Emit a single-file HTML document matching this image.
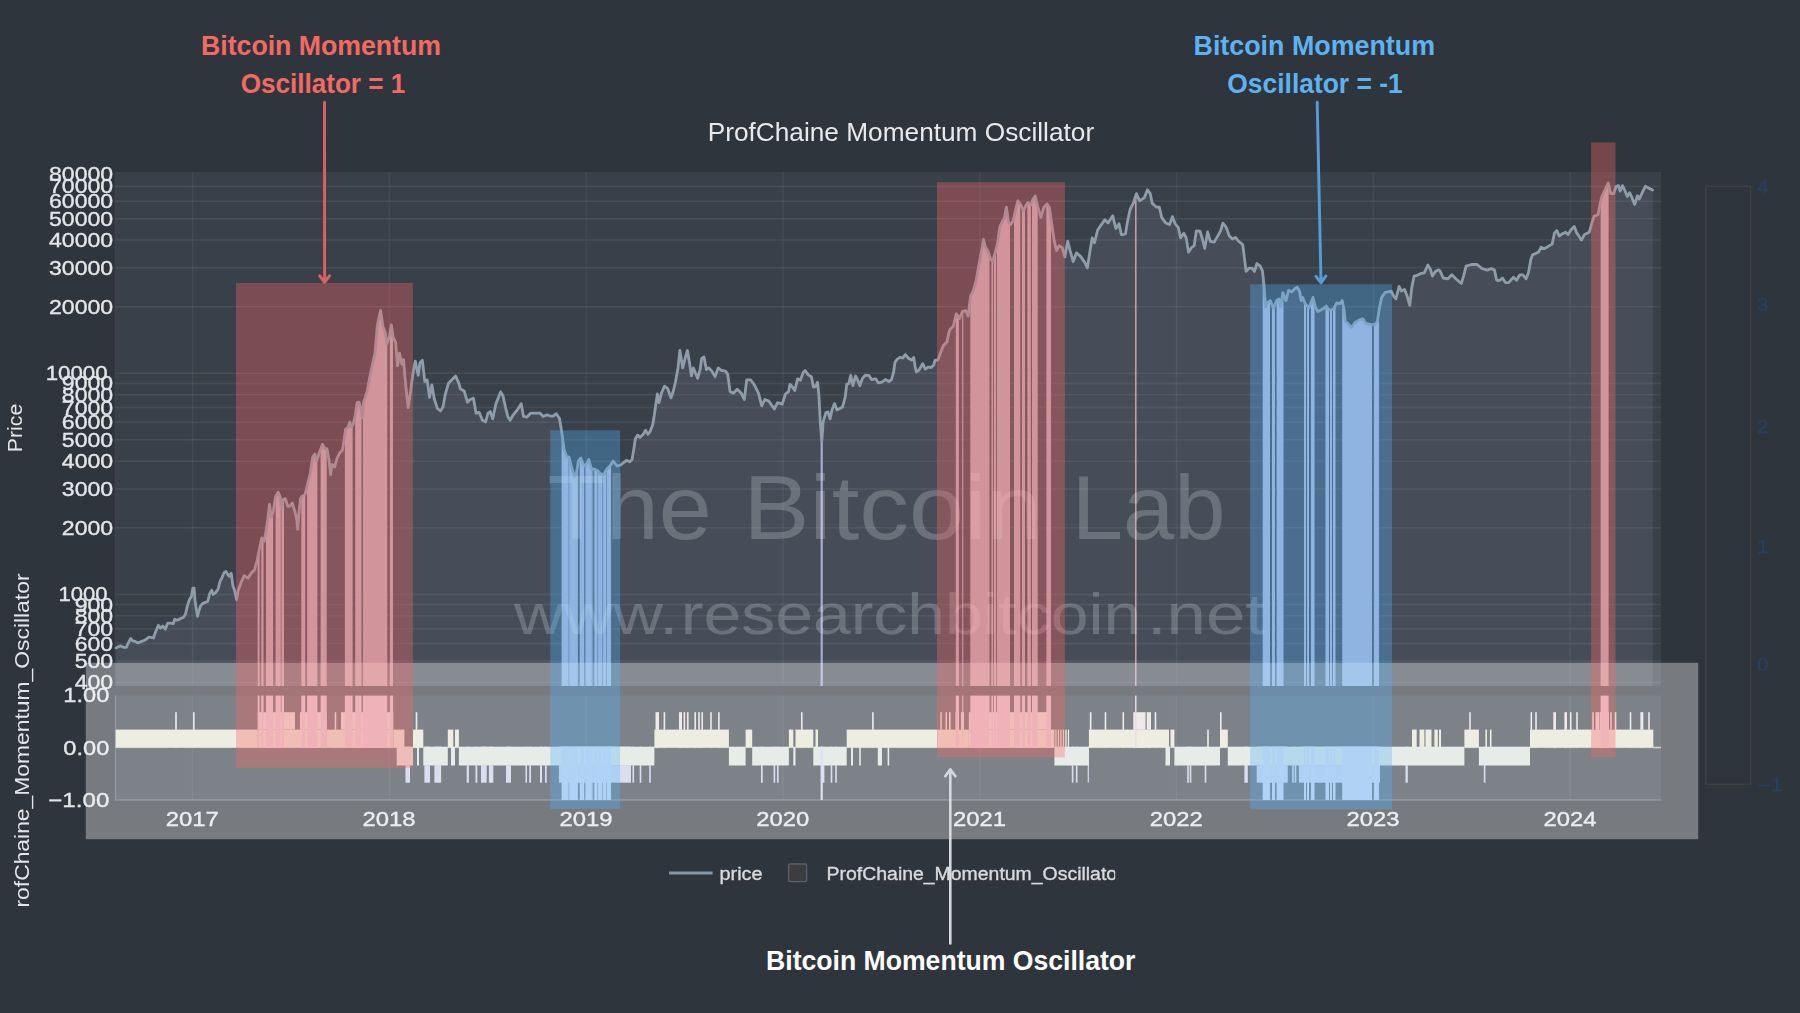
<!DOCTYPE html>
<html><head><meta charset="utf-8"><title>ProfChaine Momentum Oscillator</title>
<style>
html,body{margin:0;padding:0;background:#2e353e;}
body{width:1800px;height:1013px;overflow:hidden;font-family:"Liberation Sans",sans-serif;}
svg{display:block;}
</style></head><body>
<svg width="1800" height="1013" viewBox="0 0 1800 1013">
<defs><filter id="soft" x="0" y="0" width="1800" height="1013" filterUnits="userSpaceOnUse"><feGaussianBlur stdDeviation="0.55"/></filter></defs>
<rect width="1800" height="1013" fill="#2e353e"/>
<g filter="url(#soft)">
<rect width="1800" height="1013" fill="#2e353e"/>
<rect x="115.2" y="172" width="1545.8" height="514" fill="#394049"/>
<rect x="115.2" y="695.6" width="1545.8" height="104.4" fill="#394049"/>
<g stroke="rgba(255,255,255,0.07)" stroke-width="1.5" fill="none">
<path d="M192.6 172V686 M192.6 695.6V800" stroke="rgba(255,255,255,0.055)"/>
<path d="M389.4 172V686 M389.4 695.6V800" stroke="rgba(255,255,255,0.055)"/>
<path d="M586.2 172V686 M586.2 695.6V800" stroke="rgba(255,255,255,0.055)"/>
<path d="M783 172V686 M783 695.6V800" stroke="rgba(255,255,255,0.055)"/>
<path d="M979.8 172V686 M979.8 695.6V800" stroke="rgba(255,255,255,0.055)"/>
<path d="M1176.6 172V686 M1176.6 695.6V800" stroke="rgba(255,255,255,0.055)"/>
<path d="M1373.4 172V686 M1373.4 695.6V800" stroke="rgba(255,255,255,0.055)"/>
<path d="M1570.2 172V686 M1570.2 695.6V800" stroke="rgba(255,255,255,0.055)"/>
<path d="M115.2 682.4H1661"/>
<path d="M115.2 661H1661"/>
<path d="M115.2 643.5H1661"/>
<path d="M115.2 628.7H1661"/>
<path d="M115.2 615.8H1661"/>
<path d="M115.2 604.5H1661"/>
<path d="M115.2 594.4H1661"/>
<path d="M115.2 527.8H1661"/>
<path d="M115.2 488.9H1661"/>
<path d="M115.2 461.3H1661"/>
<path d="M115.2 439.8H1661"/>
<path d="M115.2 422.3H1661"/>
<path d="M115.2 407.5H1661"/>
<path d="M115.2 394.7H1661"/>
<path d="M115.2 383.4H1661"/>
<path d="M115.2 373.2H1661"/>
<path d="M115.2 306.7H1661"/>
<path d="M115.2 267.7H1661"/>
<path d="M115.2 240.1H1661"/>
<path d="M115.2 218.7H1661"/>
<path d="M115.2 201.2H1661"/>
<path d="M115.2 186.4H1661"/>
<path d="M115.2 747.8H1661"/>
<path d="M115.2 800H1661"/>
</g>
<path d="M115.2 172V686 M115.2 695.6V800" stroke="rgba(255,255,255,0.04)" stroke-width="1.5"/>
<path d="M115.5 695.6V800H1661" fill="none" stroke="rgba(255,255,255,0.16)" stroke-width="1.3"/>
<path d="M116.1 647.9 L118.9 646.4 L120.9 645.9 L123.8 647.4 L126.3 647.4 L128.3 642.9 L130.7 638.5 L132.7 640.9 L135.2 641.4 L137.6 642.9 L140.6 641.9 L144.1 640.5 L146.5 639 L149 637 L151.5 637.5 L153.4 638 L155.9 631.1 L158.4 625.2 L160.3 628.1 L162.8 626.1 L165.3 629.1 L167.7 623.2 L170.2 623.2 L173.2 623.7 L174.7 619.2 L177.1 620.2 L180.1 618.7 L183.5 617.3 L185.5 614.3 L187.5 605.4 L189.5 599.5 L191.4 596.5 L192.9 588.1 L194.1 588.1 L194.9 599.5 L195.9 606.4 L197.4 616.3 L198.8 611.3 L200.3 606.4 L202.8 603.4 L205.3 602.4 L207.7 601.5 L209.7 593.6 L211.7 590.1 L213.2 594.5 L215.6 592.6 L218.1 589.1 L220.1 581.2 L222 577.8 L224 572.8 L226 571.4 L228 574.8 L229.4 576.3 L231.2 573.3 L232.9 585.7 L234.6 590.5 L236.6 599.8 L238.2 590.5 L241 582.7 L244.2 575.6 L248 578.2 L251.3 573.1 L254.5 569.9 L257 560.9 L259.6 548 L261.8 537.8 L264.1 541.6 L266 531.3 L267.9 518.5 L269.5 504.4 L271.2 517.2 L273.1 512.1 L275.6 496.7 L278.2 492.2 L280.1 496.7 L281.4 509.5 L283.3 499.3 L285.3 498.6 L287.8 506.3 L290.4 505.7 L292.3 503.1 L294.9 511.5 L296.8 519.8 L297.7 529.4 L299 512.1 L300.5 498.5 L301.9 496.4 L305.1 494.5 L307.7 483.6 L310.3 473.3 L312.8 456.6 L314.8 454.1 L316.7 460.5 L319.3 452.8 L322.5 444.4 L325 448.9 L327 448.9 L328.9 459.2 L330.6 474.6 L332.1 464.3 L334.7 466.9 L337.2 457.9 L339.8 452.8 L342.4 450.2 L344.3 438.6 L345.6 429 L348.1 427.1 L349.8 422 L351.3 427.1 L353.3 423.9 L355.2 415.5 L357.1 402.7 L359 402.1 L361 409.1 L362.3 418.1 L363.5 402.7 L365.5 396.3 L367.1 391.1 L371.1 370.6 L375 353.2 L377.4 324.8 L380.6 310.5 L382.9 326.3 L385.3 332.7 L386.9 343.7 L389.2 337.4 L391.3 324.8 L393.2 337.4 L395.6 342.1 L397.6 365.8 L399.5 353.2 L401.9 364.3 L403.5 359.5 L405.8 386.4 L408.2 407.7 L410.6 391.1 L412.9 373.7 L415.3 361.1 L418.2 375.3 L420 362.7 L422.4 360.3 L424.8 381.6 L427.2 380 L429.5 397.4 L431.9 384.8 L434.3 399 L437.4 408.5 L440.6 410.9 L443 406.9 L445.3 394.3 L448.5 383.2 L452.4 379.3 L455.6 376.1 L458.8 383.2 L460.3 388.7 L464.3 391.1 L467.4 402.2 L469.8 399.8 L473.4 398.2 L476.1 413.2 L479.3 412.4 L482.4 420.3 L485.6 421.9 L488 413.2 L490.3 411.6 L492.7 418.8 L495.9 403.7 L500.6 391.9 L503 395.8 L505.4 406.9 L507.7 416.4 L510.1 420.3 L513.3 414.8 L517.2 410 L521.2 403.7 L523.5 416.4 L526.7 417.2 L530.6 413.2 L535.4 413.2 L540.1 413.2 L543.3 416.4 L547.2 414.8 L550 416.1 L553.2 416.1 L556.3 413.7 L559.5 418.5 L561.8 432.7 L564.2 450.1 L566.6 456.4 L569 457.2 L571.3 465.9 L574.5 476.9 L576.1 475.3 L578.4 461.1 L580.8 458 L583.2 464.3 L585.5 465.9 L588.7 459.5 L591.4 469 L594.2 469 L597.4 470.6 L600.6 473.8 L603.7 474.5 L606.9 469 L610 465.9 L613.2 461.1 L617.1 465.9 L620.3 465.1 L623.5 462.7 L626.6 460.3 L629.8 461.9 L632.1 459.5 L633.7 450.1 L635.3 439 L637.7 435.1 L640 437.4 L643.2 434.3 L645.6 430.3 L647.9 434.3 L650.3 431.1 L652.7 424.8 L654.3 415.3 L655.8 404.2 L657.4 394 L659 402.7 L661.4 393.2 L664.5 386.1 L667.7 388.5 L670.9 397.9 L673.2 391.6 L675.6 381.3 L678 367.9 L679.9 350.5 L682.7 367.9 L685.1 358.4 L687.4 350.5 L689.8 364.8 L691.4 375.8 L693.4 367.9 L695.3 372.7 L697.7 378.2 L700.1 369.5 L701.7 358.4 L704 356.9 L706.4 369.5 L708.8 367.9 L711.9 371.1 L715.1 376.6 L718.2 367.9 L721.4 370.3 L725.4 371.1 L727.7 374.2 L730.1 391.6 L733.3 393.2 L737.2 389.2 L741.2 393.2 L744.3 399.5 L746.7 379.8 L750.6 379.8 L754.6 385.3 L758.5 393.2 L761.7 405.8 L764.8 399.5 L768.8 401.1 L774.3 409 L777.5 402.7 L782.2 404.2 L785.4 394 L788.6 391.6 L790 384.3 L792.1 386.4 L794.8 390.5 L797.6 378.8 L800.4 380.2 L803.1 372.6 L805.2 370.5 L808 374.6 L811.4 376.7 L813.5 387.1 L815.6 386.4 L817.6 382.2 L819 396.7 L820.4 424.4 L821.8 441 L823.2 421.6 L825.9 412.6 L828 411.9 L830.1 418.8 L832.2 409.2 L834.5 403.6 L837 409.9 L839.8 408.5 L842.5 407.1 L845.3 396.7 L846.7 384.3 L848.7 383.6 L850.8 375.3 L852.9 385.7 L855.6 376 L857.7 380.2 L859.8 385.7 L862.6 378.1 L865.3 375.3 L868.8 375.3 L871.5 379.5 L875.7 378.8 L878.4 382.9 L881.9 382.2 L885.4 379.5 L888.8 381.5 L891.6 379.5 L893.6 371.9 L895 362.2 L897.1 359.4 L899.9 357.4 L902.6 358 L905.4 354.6 L908.2 358 L911.6 360.1 L913.7 357.4 L915.1 366.3 L916.4 371.9 L919.2 369.8 L922.7 363.6 L925.4 369.1 L928.2 367 L931 367.7 L933.7 365 L935.1 360.1 L937.9 360.1 L940.6 352.5 L943.4 345.6 L946.9 342.1 L948.9 332.5 L950 329.6 L953.2 326.4 L956.3 313.8 L959.5 318.5 L962.6 311.4 L965.8 310.6 L968.2 316.1 L970.5 296.4 L972.9 291.6 L976.1 280.6 L979.2 263.2 L981.6 250.6 L983.5 239.5 L985.5 247.4 L987.9 250.6 L990.8 260 L992.7 260.8 L995 253.7 L997.4 244.2 L999.8 226.9 L1002.1 222.1 L1004.5 217.4 L1006.4 207.1 L1008.5 222.1 L1010.8 224.5 L1013.2 220.6 L1015.6 209.5 L1017.9 200.8 L1020.3 204 L1023.5 211.1 L1025.8 205.5 L1028.2 202.4 L1030.6 205.5 L1032.9 199.2 L1035.3 196.1 L1037.7 206.3 L1040.8 217.4 L1044 207.1 L1047.2 204 L1049.5 207.9 L1051.9 225.3 L1054.3 241.1 L1056.6 250.6 L1059 245.8 L1062.2 247.4 L1064.8 256.9 L1067.7 241.1 L1070.1 250.6 L1073.2 261.6 L1076.4 252.9 L1080.3 256.1 L1084.3 261.6 L1087.4 267.9 L1089.8 252.1 L1092.2 237.9 L1094.5 242.7 L1097.7 230 L1100.9 225.3 L1104.8 219.8 L1108 222.9 L1112.7 215.8 L1115.9 228.5 L1119 223.7 L1121.4 234.8 L1125.4 234 L1127.7 220.6 L1130.1 209.5 L1133.3 203.2 L1136.4 193.7 L1139.6 200.8 L1144.3 197.6 L1147.5 189.7 L1150.3 193.7 L1152.2 203.2 L1156.2 207.1 L1159.3 207.1 L1161.7 217.4 L1165.6 222.9 L1169.6 224.5 L1172.4 216.6 L1175.1 223.7 L1178.3 227.7 L1180.6 237.9 L1183.8 233.2 L1186.2 237.9 L1188.5 252.1 L1191.7 247.4 L1194.1 245.8 L1196.4 230.8 L1200 231.1 L1202.4 239 L1204.7 248.5 L1207.6 231.9 L1210.3 241.3 L1214.2 242.1 L1217.4 236.6 L1220.5 231.1 L1222.9 223.2 L1226.1 227.1 L1229.2 235.8 L1232.4 239 L1235.5 237.4 L1238.7 241.3 L1242.7 244.5 L1244.2 256.4 L1246.1 271.4 L1249 268.2 L1252.1 268.2 L1254.5 271.4 L1256.9 263.5 L1260 265.8 L1262.4 270.6 L1264 284.8 L1265.6 306.9 L1267.9 302.2 L1270.3 300.6 L1273.5 308.5 L1276.6 300.6 L1279 299 L1280.6 306.9 L1282.9 292.7 L1286.1 300.6 L1288.5 290.3 L1291.6 291.9 L1294.8 288.7 L1297.2 287.2 L1299.5 291.1 L1301.1 300.6 L1302.7 297.4 L1305.1 303.7 L1309 307.7 L1313 297.4 L1315.3 306.9 L1317.7 311.6 L1322.4 309.3 L1326.4 306.1 L1328.8 310.1 L1333.5 309.3 L1336.7 302.9 L1339.8 303.7 L1342.2 300.6 L1344.1 310.1 L1345.3 321.1 L1348.5 324.3 L1351.7 327.4 L1354.8 322.7 L1358.8 320.3 L1362.7 318.8 L1365.9 323.5 L1370.6 324.3 L1373.8 325.1 L1377.3 321.9 L1379.3 308.5 L1381.7 297.4 L1384.8 292.7 L1388 291.9 L1391.2 291.1 L1393.5 295.8 L1395.9 299 L1399.1 286.4 L1401.4 291.1 L1404.6 289.5 L1407 295.8 L1409.8 305.3 L1411.7 287.9 L1414.1 276.1 L1417.2 275.3 L1420.4 273.7 L1424.3 272.9 L1427.8 265 L1430.3 269 L1432.5 276.1 L1435.4 271.4 L1438.5 269.8 L1440 270.9 L1443.2 278 L1447.9 278.8 L1451.8 274.8 L1455.8 278.8 L1461.3 283.5 L1463.7 275.6 L1466.1 266.1 L1471.6 264.5 L1477.1 264.5 L1481.9 268.5 L1487.4 270.1 L1491.3 268.5 L1494.5 270.1 L1496.6 280.3 L1500 280.3 L1502.4 278 L1505.6 282.7 L1508.7 282.7 L1513.5 277.2 L1516.6 280.3 L1519.8 274.8 L1522.9 274.8 L1526.1 278.8 L1528.5 272.4 L1530.8 259.8 L1532.4 255.1 L1535.6 253.5 L1538.7 251.9 L1541.1 247.2 L1544.3 248.7 L1548.2 246.4 L1552.2 244 L1554.5 232.9 L1556.9 230.6 L1559.3 236.1 L1562.4 233.7 L1565.6 232.2 L1568 234.5 L1571.1 229.8 L1574.3 226.6 L1576.7 232.9 L1579 236.1 L1581.4 240.1 L1584.5 234.5 L1589.3 232.2 L1591.7 223.5 L1594 216.4 L1598 214.8 L1600.3 202.9 L1601.9 196.6 L1605.1 189.5 L1608.2 183.2 L1610.6 193.5 L1613.8 193.5 L1616.1 186.3 L1618.5 185.6 L1620.1 191.1 L1622.5 185.6 L1624.8 190.3 L1627.2 196.6 L1629.6 192.7 L1631.9 197.4 L1634.6 204.5 L1637.5 195.8 L1639.4 199 L1642.2 192.7 L1645.4 186.3 L1648.5 187.9 L1652.5 190 L1652.5 686 L116.1 686 Z" fill="rgba(150,165,185,0.145)"/>
<g fill="#beacb9">
<path d="M257.7 686 L257.7 557.4 L259.6 548 L259.6 686 Z"/>
<path d="M261.3 686 L261.3 540.1 L261.8 537.8 L263.5 540.6 L263.5 686 Z"/>
<path d="M266 686 L266 531.3 L267.9 518.5 L269.5 504.4 L271.2 517.2 L273.1 512.1 L273.1 686 Z"/>
<path d="M275.6 686 L275.6 496.7 L278.2 492.2 L280.1 496.7 L280.8 503.6 L280.8 686 Z"/>
<path d="M281.4 686 L281.4 509.5 L283.3 499.3 L284 499.1 L284 686 Z"/>
<path d="M301.3 686 L301.3 497.3 L301.9 496.4 L305.1 494.5 L305.2 494.1 L305.2 686 Z"/>
<path d="M307.1 686 L307.1 486.1 L307.7 483.6 L310.3 473.3 L312.8 456.6 L314.8 454.1 L316.7 460.5 L317.4 458.4 L317.4 686 Z"/>
<path d="M320.6 686 L320.6 449.4 L322.5 444.4 L325 448.9 L326.7 448.9 L326.7 686 Z"/>
<path d="M344.9 686 L344.9 434.2 L345.6 429 L348.1 427.1 L349.8 422 L351.3 427.1 L352.6 425 L352.6 686 Z"/>
<path d="M355.2 686 L355.2 415.5 L357.1 402.7 L359 402.1 L361 409.1 L361.6 413.3 L361.6 686 Z"/>
<path d="M362.9 686 L362.9 410.4 L363.5 402.7 L365.5 396.3 L367.1 391.1 L371.1 370.6 L375 353.2 L377.4 324.8 L380.6 310.5 L382.9 326.3 L385.3 332.7 L386.9 343.7 L387.3 342.6 L387.3 686 Z"/>
<path d="M389.9 686 L389.9 333.2 L391.3 324.8 L393 336.1 L393 686 Z"/>
<path d="M955.8 686 L955.8 315.8 L956.3 313.8 L958.9 317.6 L958.9 686 Z"/>
<path d="M962.2 686 L962.2 312.3 L962.6 311.4 L963.3 311.2 L963.3 686 Z"/>
<path d="M970.3 686 L970.3 298.1 L970.5 296.4 L972.9 291.6 L976.1 280.6 L979.2 263.2 L981.6 250.6 L983.5 239.5 L985.5 247.4 L987.9 250.6 L989.5 255.8 L989.5 686 Z"/>
<path d="M991.4 686 L991.4 260.3 L992.7 260.8 L993 259.9 L993 686 Z"/>
<path d="M993.8 686 L993.8 257.4 L995 253.7 L996 249.7 L996 686 Z"/>
<path d="M996.8 686 L996.8 246.6 L997.4 244.2 L999.8 226.9 L1002.1 222.1 L1004.5 217.4 L1006.4 207.1 L1008.5 222.1 L1010 223.7 L1010 686 Z"/>
<path d="M1014 686 L1014 216.9 L1015.6 209.5 L1017.9 200.8 L1020.3 204 L1020.3 686 Z"/>
<path d="M1021.9 686 L1021.9 207.6 L1023.5 211.1 L1025 207.4 L1025 686 Z"/>
<path d="M1027.4 686 L1027.4 203.4 L1028.2 202.4 L1030.6 205.5 L1030.9 204.7 L1030.9 686 Z"/>
<path d="M1032 686 L1032 201.7 L1032.9 199.2 L1035.3 196.1 L1037.7 206.3 L1037.7 686 Z"/>
<path d="M1046.4 686 L1046.4 204.8 L1047.2 204 L1049.5 207.9 L1051 218.8 L1051 686 Z"/>
<path d="M1135.1 686 L1135.1 197.7 L1136.4 193.7 L1136.5 193.9 L1136.5 686 Z" fill="#d6a2ae"/>
<path d="M1600.6 686 L1600.6 201.7 L1601.9 196.6 L1605.1 189.5 L1608.2 183.2 L1608.6 184.9 L1608.6 686 Z"/>
</g>
<g fill="#acb5d4">
<path d="M561.6 686 L561.6 431.5 L561.8 432.7 L564.2 450.1 L566.6 456.4 L568.7 457.1 L568.7 686 Z"/>
<path d="M569.2 686 L569.2 458 L571.3 465.9 L574.5 476.9 L576.1 475.3 L577.9 464.2 L577.9 686 Z"/>
<path d="M579.7 686 L579.7 459.4 L580.8 458 L583.2 464.3 L584.3 465.1 L584.3 686 Z"/>
<path d="M585.4 686 L585.4 465.8 L585.5 465.9 L588.7 459.5 L591.4 469 L591.9 469 L591.9 686 Z"/>
<path d="M592.4 686 L592.4 469 L593.2 469 L593.2 686 Z"/>
<path d="M594.3 686 L594.3 469 L597.4 470.6 L597.6 470.8 L597.6 686 Z"/>
<path d="M598.1 686 L598.1 471.3 L600.6 473.8 L602 474.1 L602 686 Z"/>
<path d="M602.5 686 L602.5 474.2 L603.7 474.5 L606.5 469.7 L606.5 686 Z"/>
<path d="M607 686 L607 468.9 L610 465.9 L611 464.4 L611 686 Z"/>
<path d="M820.6 686 L820.6 426.8 L821.8 441 L822.8 427.1 L822.8 686 Z" fill="#a9a9d4"/>
<path d="M1262.7 686 L1262.7 273.3 L1264 284.8 L1265.6 306.9 L1267.9 302.2 L1270 300.8 L1270 686 Z"/>
<path d="M1272 686 L1272 304.8 L1273.5 308.5 L1275 304.7 L1275 686 Z"/>
<path d="M1276.6 686 L1276.6 300.6 L1279 299 L1280.6 306.9 L1282.9 292.7 L1283.5 294.2 L1283.5 686 Z"/>
<path d="M1304 686 L1304 300.8 L1305.1 303.7 L1306 304.6 L1306 686 Z"/>
<path d="M1307 686 L1307 305.6 L1309 307.7 L1309 686 Z"/>
<path d="M1311 686 L1311 302.5 L1313 297.4 L1314.5 303.6 L1314.5 686 Z"/>
<path d="M1325.5 686 L1325.5 306.8 L1326.4 306.1 L1328.8 310.1 L1329 310.1 L1329 686 Z"/>
<path d="M1330 686 L1330 309.9 L1332 309.6 L1332 686 Z"/>
<path d="M1333 686 L1333 309.4 L1333.5 309.3 L1335.5 305.3 L1335.5 686 Z"/>
<path d="M1342.2 686 L1342.2 300.6 L1344.1 310.1 L1345.3 321.1 L1348.5 324.3 L1351.7 327.4 L1354.8 322.7 L1358.8 320.3 L1362.7 318.8 L1365.9 323.5 L1370.6 324.3 L1372 324.7 L1372 686 Z"/>
<path d="M1374 686 L1374 324.9 L1377.3 321.9 L1379 310.5 L1379 686 Z"/>
</g>
<path d="M116.1 647.9 L118.9 646.4 L120.9 645.9 L123.8 647.4 L126.3 647.4 L128.3 642.9 L130.7 638.5 L132.7 640.9 L135.2 641.4 L137.6 642.9 L140.6 641.9 L144.1 640.5 L146.5 639 L149 637 L151.5 637.5 L153.4 638 L155.9 631.1 L158.4 625.2 L160.3 628.1 L162.8 626.1 L165.3 629.1 L167.7 623.2 L170.2 623.2 L173.2 623.7 L174.7 619.2 L177.1 620.2 L180.1 618.7 L183.5 617.3 L185.5 614.3 L187.5 605.4 L189.5 599.5 L191.4 596.5 L192.9 588.1 L194.1 588.1 L194.9 599.5 L195.9 606.4 L197.4 616.3 L198.8 611.3 L200.3 606.4 L202.8 603.4 L205.3 602.4 L207.7 601.5 L209.7 593.6 L211.7 590.1 L213.2 594.5 L215.6 592.6 L218.1 589.1 L220.1 581.2 L222 577.8 L224 572.8 L226 571.4 L228 574.8 L229.4 576.3 L231.2 573.3 L232.9 585.7 L234.6 590.5 L236.6 599.8 L238.2 590.5 L241 582.7 L244.2 575.6 L248 578.2 L251.3 573.1 L254.5 569.9 L257 560.9 L259.6 548 L261.8 537.8 L264.1 541.6 L266 531.3 L267.9 518.5 L269.5 504.4 L271.2 517.2 L273.1 512.1 L275.6 496.7 L278.2 492.2 L280.1 496.7 L281.4 509.5 L283.3 499.3 L285.3 498.6 L287.8 506.3 L290.4 505.7 L292.3 503.1 L294.9 511.5 L296.8 519.8 L297.7 529.4 L299 512.1 L300.5 498.5 L301.9 496.4 L305.1 494.5 L307.7 483.6 L310.3 473.3 L312.8 456.6 L314.8 454.1 L316.7 460.5 L319.3 452.8 L322.5 444.4 L325 448.9 L327 448.9 L328.9 459.2 L330.6 474.6 L332.1 464.3 L334.7 466.9 L337.2 457.9 L339.8 452.8 L342.4 450.2 L344.3 438.6 L345.6 429 L348.1 427.1 L349.8 422 L351.3 427.1 L353.3 423.9 L355.2 415.5 L357.1 402.7 L359 402.1 L361 409.1 L362.3 418.1 L363.5 402.7 L365.5 396.3 L367.1 391.1 L371.1 370.6 L375 353.2 L377.4 324.8 L380.6 310.5 L382.9 326.3 L385.3 332.7 L386.9 343.7 L389.2 337.4 L391.3 324.8 L393.2 337.4 L395.6 342.1 L397.6 365.8 L399.5 353.2 L401.9 364.3 L403.5 359.5 L405.8 386.4 L408.2 407.7 L410.6 391.1 L412.9 373.7 L415.3 361.1 L418.2 375.3 L420 362.7 L422.4 360.3 L424.8 381.6 L427.2 380 L429.5 397.4 L431.9 384.8 L434.3 399 L437.4 408.5 L440.6 410.9 L443 406.9 L445.3 394.3 L448.5 383.2 L452.4 379.3 L455.6 376.1 L458.8 383.2 L460.3 388.7 L464.3 391.1 L467.4 402.2 L469.8 399.8 L473.4 398.2 L476.1 413.2 L479.3 412.4 L482.4 420.3 L485.6 421.9 L488 413.2 L490.3 411.6 L492.7 418.8 L495.9 403.7 L500.6 391.9 L503 395.8 L505.4 406.9 L507.7 416.4 L510.1 420.3 L513.3 414.8 L517.2 410 L521.2 403.7 L523.5 416.4 L526.7 417.2 L530.6 413.2 L535.4 413.2 L540.1 413.2 L543.3 416.4 L547.2 414.8 L550 416.1 L553.2 416.1 L556.3 413.7 L559.5 418.5 L561.8 432.7 L564.2 450.1 L566.6 456.4 L569 457.2 L571.3 465.9 L574.5 476.9 L576.1 475.3 L578.4 461.1 L580.8 458 L583.2 464.3 L585.5 465.9 L588.7 459.5 L591.4 469 L594.2 469 L597.4 470.6 L600.6 473.8 L603.7 474.5 L606.9 469 L610 465.9 L613.2 461.1 L617.1 465.9 L620.3 465.1 L623.5 462.7 L626.6 460.3 L629.8 461.9 L632.1 459.5 L633.7 450.1 L635.3 439 L637.7 435.1 L640 437.4 L643.2 434.3 L645.6 430.3 L647.9 434.3 L650.3 431.1 L652.7 424.8 L654.3 415.3 L655.8 404.2 L657.4 394 L659 402.7 L661.4 393.2 L664.5 386.1 L667.7 388.5 L670.9 397.9 L673.2 391.6 L675.6 381.3 L678 367.9 L679.9 350.5 L682.7 367.9 L685.1 358.4 L687.4 350.5 L689.8 364.8 L691.4 375.8 L693.4 367.9 L695.3 372.7 L697.7 378.2 L700.1 369.5 L701.7 358.4 L704 356.9 L706.4 369.5 L708.8 367.9 L711.9 371.1 L715.1 376.6 L718.2 367.9 L721.4 370.3 L725.4 371.1 L727.7 374.2 L730.1 391.6 L733.3 393.2 L737.2 389.2 L741.2 393.2 L744.3 399.5 L746.7 379.8 L750.6 379.8 L754.6 385.3 L758.5 393.2 L761.7 405.8 L764.8 399.5 L768.8 401.1 L774.3 409 L777.5 402.7 L782.2 404.2 L785.4 394 L788.6 391.6 L790 384.3 L792.1 386.4 L794.8 390.5 L797.6 378.8 L800.4 380.2 L803.1 372.6 L805.2 370.5 L808 374.6 L811.4 376.7 L813.5 387.1 L815.6 386.4 L817.6 382.2 L819 396.7 L820.4 424.4 L821.8 441 L823.2 421.6 L825.9 412.6 L828 411.9 L830.1 418.8 L832.2 409.2 L834.5 403.6 L837 409.9 L839.8 408.5 L842.5 407.1 L845.3 396.7 L846.7 384.3 L848.7 383.6 L850.8 375.3 L852.9 385.7 L855.6 376 L857.7 380.2 L859.8 385.7 L862.6 378.1 L865.3 375.3 L868.8 375.3 L871.5 379.5 L875.7 378.8 L878.4 382.9 L881.9 382.2 L885.4 379.5 L888.8 381.5 L891.6 379.5 L893.6 371.9 L895 362.2 L897.1 359.4 L899.9 357.4 L902.6 358 L905.4 354.6 L908.2 358 L911.6 360.1 L913.7 357.4 L915.1 366.3 L916.4 371.9 L919.2 369.8 L922.7 363.6 L925.4 369.1 L928.2 367 L931 367.7 L933.7 365 L935.1 360.1 L937.9 360.1 L940.6 352.5 L943.4 345.6 L946.9 342.1 L948.9 332.5 L950 329.6 L953.2 326.4 L956.3 313.8 L959.5 318.5 L962.6 311.4 L965.8 310.6 L968.2 316.1 L970.5 296.4 L972.9 291.6 L976.1 280.6 L979.2 263.2 L981.6 250.6 L983.5 239.5 L985.5 247.4 L987.9 250.6 L990.8 260 L992.7 260.8 L995 253.7 L997.4 244.2 L999.8 226.9 L1002.1 222.1 L1004.5 217.4 L1006.4 207.1 L1008.5 222.1 L1010.8 224.5 L1013.2 220.6 L1015.6 209.5 L1017.9 200.8 L1020.3 204 L1023.5 211.1 L1025.8 205.5 L1028.2 202.4 L1030.6 205.5 L1032.9 199.2 L1035.3 196.1 L1037.7 206.3 L1040.8 217.4 L1044 207.1 L1047.2 204 L1049.5 207.9 L1051.9 225.3 L1054.3 241.1 L1056.6 250.6 L1059 245.8 L1062.2 247.4 L1064.8 256.9 L1067.7 241.1 L1070.1 250.6 L1073.2 261.6 L1076.4 252.9 L1080.3 256.1 L1084.3 261.6 L1087.4 267.9 L1089.8 252.1 L1092.2 237.9 L1094.5 242.7 L1097.7 230 L1100.9 225.3 L1104.8 219.8 L1108 222.9 L1112.7 215.8 L1115.9 228.5 L1119 223.7 L1121.4 234.8 L1125.4 234 L1127.7 220.6 L1130.1 209.5 L1133.3 203.2 L1136.4 193.7 L1139.6 200.8 L1144.3 197.6 L1147.5 189.7 L1150.3 193.7 L1152.2 203.2 L1156.2 207.1 L1159.3 207.1 L1161.7 217.4 L1165.6 222.9 L1169.6 224.5 L1172.4 216.6 L1175.1 223.7 L1178.3 227.7 L1180.6 237.9 L1183.8 233.2 L1186.2 237.9 L1188.5 252.1 L1191.7 247.4 L1194.1 245.8 L1196.4 230.8 L1200 231.1 L1202.4 239 L1204.7 248.5 L1207.6 231.9 L1210.3 241.3 L1214.2 242.1 L1217.4 236.6 L1220.5 231.1 L1222.9 223.2 L1226.1 227.1 L1229.2 235.8 L1232.4 239 L1235.5 237.4 L1238.7 241.3 L1242.7 244.5 L1244.2 256.4 L1246.1 271.4 L1249 268.2 L1252.1 268.2 L1254.5 271.4 L1256.9 263.5 L1260 265.8 L1262.4 270.6 L1264 284.8 L1265.6 306.9 L1267.9 302.2 L1270.3 300.6 L1273.5 308.5 L1276.6 300.6 L1279 299 L1280.6 306.9 L1282.9 292.7 L1286.1 300.6 L1288.5 290.3 L1291.6 291.9 L1294.8 288.7 L1297.2 287.2 L1299.5 291.1 L1301.1 300.6 L1302.7 297.4 L1305.1 303.7 L1309 307.7 L1313 297.4 L1315.3 306.9 L1317.7 311.6 L1322.4 309.3 L1326.4 306.1 L1328.8 310.1 L1333.5 309.3 L1336.7 302.9 L1339.8 303.7 L1342.2 300.6 L1344.1 310.1 L1345.3 321.1 L1348.5 324.3 L1351.7 327.4 L1354.8 322.7 L1358.8 320.3 L1362.7 318.8 L1365.9 323.5 L1370.6 324.3 L1373.8 325.1 L1377.3 321.9 L1379.3 308.5 L1381.7 297.4 L1384.8 292.7 L1388 291.9 L1391.2 291.1 L1393.5 295.8 L1395.9 299 L1399.1 286.4 L1401.4 291.1 L1404.6 289.5 L1407 295.8 L1409.8 305.3 L1411.7 287.9 L1414.1 276.1 L1417.2 275.3 L1420.4 273.7 L1424.3 272.9 L1427.8 265 L1430.3 269 L1432.5 276.1 L1435.4 271.4 L1438.5 269.8 L1440 270.9 L1443.2 278 L1447.9 278.8 L1451.8 274.8 L1455.8 278.8 L1461.3 283.5 L1463.7 275.6 L1466.1 266.1 L1471.6 264.5 L1477.1 264.5 L1481.9 268.5 L1487.4 270.1 L1491.3 268.5 L1494.5 270.1 L1496.6 280.3 L1500 280.3 L1502.4 278 L1505.6 282.7 L1508.7 282.7 L1513.5 277.2 L1516.6 280.3 L1519.8 274.8 L1522.9 274.8 L1526.1 278.8 L1528.5 272.4 L1530.8 259.8 L1532.4 255.1 L1535.6 253.5 L1538.7 251.9 L1541.1 247.2 L1544.3 248.7 L1548.2 246.4 L1552.2 244 L1554.5 232.9 L1556.9 230.6 L1559.3 236.1 L1562.4 233.7 L1565.6 232.2 L1568 234.5 L1571.1 229.8 L1574.3 226.6 L1576.7 232.9 L1579 236.1 L1581.4 240.1 L1584.5 234.5 L1589.3 232.2 L1591.7 223.5 L1594 216.4 L1598 214.8 L1600.3 202.9 L1601.9 196.6 L1605.1 189.5 L1608.2 183.2 L1610.6 193.5 L1613.8 193.5 L1616.1 186.3 L1618.5 185.6 L1620.1 191.1 L1622.5 185.6 L1624.8 190.3 L1627.2 196.6 L1629.6 192.7 L1631.9 197.4 L1634.6 204.5 L1637.5 195.8 L1639.4 199 L1642.2 192.7 L1645.4 186.3 L1648.5 187.9 L1652.5 190" fill="none" stroke="#8f9dab" stroke-width="2.8" stroke-linejoin="round" stroke-linecap="round"/>
<g fill="#e3e3d3">
<rect x="115.6" y="729.6" width="142.2" height="18.2"/>
<rect x="295" y="729.6" width="5" height="18.2"/>
<rect x="326.7" y="729.6" width="14.3" height="18.2"/>
<rect x="393.3" y="729.6" width="11.1" height="18.2"/>
<rect x="413" y="729.6" width="10.3" height="18.2"/>
<rect x="447.8" y="729.6" width="5.5" height="18.2"/>
<rect x="455" y="729.6" width="3.9" height="18.2"/>
<rect x="654.4" y="729.6" width="74.5" height="18.2"/>
<rect x="745.6" y="729.6" width="6.6" height="18.2"/>
<rect x="788.9" y="729.6" width="4.4" height="18.2"/>
<rect x="795.5" y="729.6" width="17.8" height="18.2"/>
<rect x="815.5" y="729.6" width="2.5" height="18.2"/>
<rect x="846.7" y="729.6" width="91.1" height="18.2"/>
<rect x="937.8" y="729.6" width="31.1" height="18.2"/>
<rect x="1051" y="729.6" width="3.4" height="18.2"/>
<rect x="1055.3" y="729.6" width="1.3" height="18.2"/>
<rect x="1057.8" y="729.6" width="1.3" height="18.2"/>
<rect x="1060.3" y="729.6" width="1.3" height="18.2"/>
<rect x="1062.8" y="729.6" width="1.3" height="18.2"/>
<rect x="1065.3" y="729.6" width="1.3" height="18.2"/>
<rect x="1067.8" y="729.6" width="1.3" height="18.2"/>
<rect x="1088.9" y="729.6" width="80.1" height="18.2"/>
<rect x="1170.5" y="729.6" width="3.9" height="18.2"/>
<rect x="1207.2" y="729.6" width="1.6" height="18.2"/>
<rect x="1220" y="729.6" width="7.8" height="18.2"/>
<rect x="1412" y="729.6" width="4.7" height="18.2"/>
<rect x="1419.5" y="729.6" width="4.9" height="18.2"/>
<rect x="1425.5" y="729.6" width="6" height="18.2"/>
<rect x="1434.4" y="729.6" width="3.4" height="18.2"/>
<rect x="1439" y="729.6" width="2" height="18.2"/>
<rect x="1464.4" y="729.6" width="14.5" height="18.2"/>
<rect x="1485.4" y="729.6" width="1.6" height="18.2"/>
<rect x="1489.9" y="729.6" width="1.6" height="18.2"/>
<rect x="1530" y="729.6" width="123.3" height="18.2"/>
</g>
<g fill="#dce2dc">
<rect x="396.7" y="746.7" width="16.3" height="18.8"/>
<rect x="417" y="746.7" width="2" height="18.8"/>
<rect x="423.3" y="746.7" width="24.5" height="18.8"/>
<rect x="451" y="746.7" width="4" height="18.8"/>
<rect x="458.9" y="746.7" width="195.5" height="18.8"/>
<rect x="728.9" y="746.7" width="16.7" height="18.8"/>
<rect x="752.2" y="746.7" width="36.7" height="18.8"/>
<rect x="793.3" y="746.7" width="2.2" height="18.8"/>
<rect x="813.3" y="746.7" width="33.4" height="18.8"/>
<rect x="851" y="746.7" width="2" height="18.8"/>
<rect x="859.2" y="746.7" width="1.6" height="18.8"/>
<rect x="877.8" y="746.7" width="4.2" height="18.8"/>
<rect x="887.6" y="746.7" width="1.6" height="18.8"/>
<rect x="1054.4" y="746.7" width="34.5" height="18.8"/>
<rect x="1165.5" y="746.7" width="4.5" height="18.8"/>
<rect x="1174.4" y="746.7" width="45.6" height="18.8"/>
<rect x="1227.8" y="746.7" width="236.6" height="18.8"/>
<rect x="1478.9" y="746.7" width="51.1" height="18.8"/>
</g>
<g fill="#e6dfdf">
<rect x="175.2" y="729.6" width="1.6" height="18.2" fill="#e3e3d3"/>
<rect x="175.2" y="712.2" width="1.6" height="17.4"/>
<rect x="193" y="729.6" width="1.6" height="18.2" fill="#e3e3d3"/>
<rect x="193" y="712.2" width="1.6" height="17.4"/>
<rect x="257.8" y="729.6" width="37.2" height="18.2" fill="#e3e3d3"/>
<rect x="257.8" y="712.2" width="37.2" height="17.4"/>
<rect x="300" y="729.6" width="26.7" height="18.2" fill="#e3e3d3"/>
<rect x="300" y="712.2" width="26.7" height="17.4"/>
<rect x="334.7" y="729.6" width="1.6" height="18.2" fill="#e3e3d3"/>
<rect x="334.7" y="712.2" width="1.6" height="17.4"/>
<rect x="341" y="729.6" width="52.3" height="18.2" fill="#e3e3d3"/>
<rect x="341" y="712.2" width="52.3" height="17.4"/>
<rect x="415.7" y="729.6" width="1.6" height="18.2" fill="#e3e3d3"/>
<rect x="415.7" y="712.2" width="1.6" height="17.4"/>
<rect x="655.5" y="729.6" width="3.5" height="18.2" fill="#e3e3d3"/>
<rect x="655.5" y="712.2" width="3.5" height="17.4"/>
<rect x="663.6" y="729.6" width="1.6" height="18.2" fill="#e3e3d3"/>
<rect x="663.6" y="712.2" width="1.6" height="17.4"/>
<rect x="683.6" y="729.6" width="1.6" height="18.2" fill="#e3e3d3"/>
<rect x="683.6" y="712.2" width="1.6" height="17.4"/>
<rect x="687" y="729.6" width="1.6" height="18.2" fill="#e3e3d3"/>
<rect x="687" y="712.2" width="1.6" height="17.4"/>
<rect x="698.2" y="729.6" width="1.6" height="18.2" fill="#e3e3d3"/>
<rect x="698.2" y="712.2" width="1.6" height="17.4"/>
<rect x="701.4" y="729.6" width="1.6" height="18.2" fill="#e3e3d3"/>
<rect x="701.4" y="712.2" width="1.6" height="17.4"/>
<rect x="710.2" y="729.6" width="1.6" height="18.2" fill="#e3e3d3"/>
<rect x="710.2" y="712.2" width="1.6" height="17.4"/>
<rect x="718.1" y="729.6" width="1.6" height="18.2" fill="#e3e3d3"/>
<rect x="718.1" y="712.2" width="1.6" height="17.4"/>
<rect x="679" y="729.6" width="3" height="18.2" fill="#e3e3d3"/>
<rect x="679" y="712.2" width="3" height="17.4"/>
<rect x="694.4" y="729.6" width="1.6" height="18.2" fill="#e3e3d3"/>
<rect x="694.4" y="712.2" width="1.6" height="17.4"/>
<rect x="801" y="729.6" width="1.6" height="18.2" fill="#e3e3d3"/>
<rect x="801" y="712.2" width="1.6" height="17.4"/>
<rect x="872.1" y="729.6" width="1.6" height="18.2" fill="#e3e3d3"/>
<rect x="872.1" y="712.2" width="1.6" height="17.4"/>
<rect x="940.4" y="729.6" width="1.4" height="18.2" fill="#e3e3d3"/>
<rect x="940.4" y="712.2" width="1.4" height="17.4"/>
<rect x="945.5" y="729.6" width="1.5" height="18.2" fill="#e3e3d3"/>
<rect x="945.5" y="712.2" width="1.5" height="17.4"/>
<rect x="949" y="729.6" width="1.7" height="18.2" fill="#e3e3d3"/>
<rect x="949" y="712.2" width="1.7" height="17.4"/>
<rect x="955.5" y="729.6" width="3.5" height="18.2" fill="#e3e3d3"/>
<rect x="955.5" y="712.2" width="3.5" height="17.4"/>
<rect x="961" y="729.6" width="3" height="18.2" fill="#e3e3d3"/>
<rect x="961" y="712.2" width="3" height="17.4"/>
<rect x="968.9" y="729.6" width="82.1" height="18.2" fill="#e3e3d3"/>
<rect x="968.9" y="712.2" width="82.1" height="17.4"/>
<rect x="1089.8" y="729.6" width="1.7" height="18.2" fill="#e3e3d3"/>
<rect x="1089.8" y="712.2" width="1.7" height="17.4"/>
<rect x="1104.7" y="729.6" width="1.6" height="18.2" fill="#e3e3d3"/>
<rect x="1104.7" y="712.2" width="1.6" height="17.4"/>
<rect x="1122.5" y="729.6" width="1.6" height="18.2" fill="#e3e3d3"/>
<rect x="1122.5" y="712.2" width="1.6" height="17.4"/>
<rect x="1133.3" y="729.6" width="12.2" height="18.2" fill="#e3e3d3"/>
<rect x="1133.3" y="712.2" width="12.2" height="17.4"/>
<rect x="1146.7" y="729.6" width="4.3" height="18.2" fill="#e3e3d3"/>
<rect x="1146.7" y="712.2" width="4.3" height="17.4"/>
<rect x="1154.7" y="729.6" width="1.6" height="18.2" fill="#e3e3d3"/>
<rect x="1154.7" y="712.2" width="1.6" height="17.4"/>
<rect x="1220" y="729.6" width="1.6" height="18.2" fill="#e3e3d3"/>
<rect x="1220" y="712.2" width="1.6" height="17.4"/>
<rect x="1469.2" y="729.6" width="1.6" height="18.2" fill="#e3e3d3"/>
<rect x="1469.2" y="712.2" width="1.6" height="17.4"/>
<rect x="1530.5" y="729.6" width="1.6" height="18.2" fill="#e3e3d3"/>
<rect x="1530.5" y="712.2" width="1.6" height="17.4"/>
<rect x="1535.2" y="729.6" width="1.6" height="18.2" fill="#e3e3d3"/>
<rect x="1535.2" y="712.2" width="1.6" height="17.4"/>
<rect x="1569.9" y="729.6" width="1.6" height="18.2" fill="#e3e3d3"/>
<rect x="1569.9" y="712.2" width="1.6" height="17.4"/>
<rect x="1576.2" y="729.6" width="1.6" height="18.2" fill="#e3e3d3"/>
<rect x="1576.2" y="712.2" width="1.6" height="17.4"/>
<rect x="1592.2" y="729.6" width="1.6" height="18.2" fill="#e3e3d3"/>
<rect x="1592.2" y="712.2" width="1.6" height="17.4"/>
<rect x="1610.2" y="729.6" width="1.6" height="18.2" fill="#e3e3d3"/>
<rect x="1610.2" y="712.2" width="1.6" height="17.4"/>
<rect x="1614.7" y="729.6" width="1.6" height="18.2" fill="#e3e3d3"/>
<rect x="1614.7" y="712.2" width="1.6" height="17.4"/>
<rect x="1629.7" y="729.6" width="1.6" height="18.2" fill="#e3e3d3"/>
<rect x="1629.7" y="712.2" width="1.6" height="17.4"/>
<rect x="1648.2" y="729.6" width="1.6" height="18.2" fill="#e3e3d3"/>
<rect x="1648.2" y="712.2" width="1.6" height="17.4"/>
<rect x="1553.3" y="729.6" width="2.7" height="18.2" fill="#e3e3d3"/>
<rect x="1553.3" y="712.2" width="2.7" height="17.4"/>
<rect x="1564.4" y="729.6" width="2.6" height="18.2" fill="#e3e3d3"/>
<rect x="1564.4" y="712.2" width="2.6" height="17.4"/>
<rect x="1595.5" y="729.6" width="3.5" height="18.2" fill="#e3e3d3"/>
<rect x="1595.5" y="712.2" width="3.5" height="17.4"/>
<rect x="1599.5" y="729.6" width="9.4" height="18.2" fill="#e3e3d3"/>
<rect x="1599.5" y="712.2" width="9.4" height="17.4"/>
<rect x="1640.4" y="729.6" width="2.9" height="18.2" fill="#e3e3d3"/>
<rect x="1640.4" y="712.2" width="2.9" height="17.4"/>
</g>
<g fill="#c7cdea">
<rect x="405.5" y="746.7" width="4.5" height="18.8" fill="#dce2dc"/>
<rect x="405.5" y="765.5" width="4.5" height="17.2"/>
<rect x="424.4" y="746.7" width="5.6" height="18.8" fill="#dce2dc"/>
<rect x="424.4" y="765.5" width="5.6" height="17.2"/>
<rect x="434.4" y="746.7" width="6.7" height="18.8" fill="#dce2dc"/>
<rect x="434.4" y="765.5" width="6.7" height="17.2"/>
<rect x="466.7" y="746.7" width="2.2" height="18.8" fill="#dce2dc"/>
<rect x="466.7" y="765.5" width="2.2" height="17.2"/>
<rect x="475.5" y="746.7" width="1.8" height="18.8" fill="#dce2dc"/>
<rect x="475.5" y="765.5" width="1.8" height="17.2"/>
<rect x="481" y="746.7" width="5.7" height="18.8" fill="#dce2dc"/>
<rect x="481" y="765.5" width="5.7" height="17.2"/>
<rect x="488.9" y="746.7" width="4.4" height="18.8" fill="#dce2dc"/>
<rect x="488.9" y="765.5" width="4.4" height="17.2"/>
<rect x="506" y="746.7" width="5" height="18.8" fill="#dce2dc"/>
<rect x="506" y="765.5" width="5" height="17.2"/>
<rect x="525.5" y="746.7" width="1.5" height="18.8" fill="#dce2dc"/>
<rect x="525.5" y="765.5" width="1.5" height="17.2"/>
<rect x="529.3" y="746.7" width="1.7" height="18.8" fill="#dce2dc"/>
<rect x="529.3" y="765.5" width="1.7" height="17.2"/>
<rect x="540" y="746.7" width="2" height="18.8" fill="#dce2dc"/>
<rect x="540" y="765.5" width="2" height="17.2"/>
<rect x="545" y="746.7" width="1.7" height="18.8" fill="#dce2dc"/>
<rect x="545" y="765.5" width="1.7" height="17.2"/>
<rect x="558.9" y="746.7" width="72.1" height="18.8" fill="#dce2dc"/>
<rect x="558.9" y="765.5" width="72.1" height="17.2"/>
<rect x="632.5" y="746.7" width="1.6" height="18.8" fill="#dce2dc"/>
<rect x="632.5" y="765.5" width="1.6" height="17.2"/>
<rect x="639.7" y="746.7" width="1.6" height="18.8" fill="#dce2dc"/>
<rect x="639.7" y="765.5" width="1.6" height="17.2"/>
<rect x="649.2" y="746.7" width="1.6" height="18.8" fill="#dce2dc"/>
<rect x="649.2" y="765.5" width="1.6" height="17.2"/>
<rect x="761" y="746.7" width="1.7" height="18.8" fill="#dce2dc"/>
<rect x="761" y="765.5" width="1.7" height="17.2"/>
<rect x="773.6" y="746.7" width="1.6" height="18.8" fill="#dce2dc"/>
<rect x="773.6" y="765.5" width="1.6" height="17.2"/>
<rect x="777" y="746.7" width="1.6" height="18.8" fill="#dce2dc"/>
<rect x="777" y="765.5" width="1.6" height="17.2"/>
<rect x="821" y="746.7" width="3.4" height="18.8" fill="#dce2dc"/>
<rect x="821" y="765.5" width="3.4" height="17.2"/>
<rect x="830.7" y="746.7" width="1.6" height="18.8" fill="#dce2dc"/>
<rect x="830.7" y="765.5" width="1.6" height="17.2"/>
<rect x="835.2" y="746.7" width="1.6" height="18.8" fill="#dce2dc"/>
<rect x="835.2" y="765.5" width="1.6" height="17.2"/>
<rect x="1071.8" y="746.7" width="1.6" height="18.8" fill="#dce2dc"/>
<rect x="1071.8" y="765.5" width="1.6" height="17.2"/>
<rect x="1075.9" y="746.7" width="1.6" height="18.8" fill="#dce2dc"/>
<rect x="1075.9" y="765.5" width="1.6" height="17.2"/>
<rect x="1087.7" y="746.7" width="1.2" height="18.8" fill="#dce2dc"/>
<rect x="1087.7" y="765.5" width="1.2" height="17.2"/>
<rect x="1187.2" y="746.7" width="1.6" height="18.8" fill="#dce2dc"/>
<rect x="1187.2" y="765.5" width="1.6" height="17.2"/>
<rect x="1189.7" y="746.7" width="1.6" height="18.8" fill="#dce2dc"/>
<rect x="1189.7" y="765.5" width="1.6" height="17.2"/>
<rect x="1204.7" y="746.7" width="1.6" height="18.8" fill="#dce2dc"/>
<rect x="1204.7" y="765.5" width="1.6" height="17.2"/>
<rect x="1244.4" y="746.7" width="3.4" height="18.8" fill="#dce2dc"/>
<rect x="1244.4" y="765.5" width="3.4" height="17.2"/>
<rect x="1256.7" y="746.7" width="31.1" height="18.8" fill="#dce2dc"/>
<rect x="1256.7" y="765.5" width="31.1" height="17.2"/>
<rect x="1292.2" y="746.7" width="1.6" height="18.8" fill="#dce2dc"/>
<rect x="1292.2" y="765.5" width="1.6" height="17.2"/>
<rect x="1294.7" y="746.7" width="1.6" height="18.8" fill="#dce2dc"/>
<rect x="1294.7" y="765.5" width="1.6" height="17.2"/>
<rect x="1298.9" y="746.7" width="81.1" height="18.8" fill="#dce2dc"/>
<rect x="1298.9" y="765.5" width="81.1" height="17.2"/>
<rect x="1405.5" y="746.7" width="2.3" height="18.8" fill="#dce2dc"/>
<rect x="1405.5" y="765.5" width="2.3" height="17.2"/>
<rect x="1483.8" y="746.7" width="1.6" height="18.8" fill="#dce2dc"/>
<rect x="1483.8" y="765.5" width="1.6" height="17.2"/>
</g>
<g fill="#e0c8da">
<rect x="257.7" y="695.6" width="1.9" height="52.2"/>
<rect x="261.3" y="695.6" width="2.2" height="52.2"/>
<rect x="266" y="695.6" width="7.1" height="52.2"/>
<rect x="275.6" y="695.6" width="5.2" height="52.2"/>
<rect x="281.4" y="695.6" width="2.6" height="52.2"/>
<rect x="301.3" y="695.6" width="3.9" height="52.2"/>
<rect x="307.1" y="695.6" width="10.3" height="52.2"/>
<rect x="320.6" y="695.6" width="6.1" height="52.2"/>
<rect x="344.9" y="695.6" width="7.7" height="52.2"/>
<rect x="355.2" y="695.6" width="6.4" height="52.2"/>
<rect x="362.9" y="695.6" width="24.4" height="52.2"/>
<rect x="389.9" y="695.6" width="3.1" height="52.2"/>
<rect x="955.8" y="695.6" width="3.1" height="52.2"/>
<rect x="962.2" y="695.6" width="1.1" height="52.2"/>
<rect x="970.3" y="695.6" width="19.2" height="52.2"/>
<rect x="991.4" y="695.6" width="1.6" height="52.2"/>
<rect x="993.8" y="695.6" width="2.2" height="52.2"/>
<rect x="996.8" y="695.6" width="13.2" height="52.2"/>
<rect x="1014" y="695.6" width="6.3" height="52.2"/>
<rect x="1021.9" y="695.6" width="3.1" height="52.2"/>
<rect x="1027.4" y="695.6" width="3.5" height="52.2"/>
<rect x="1032" y="695.6" width="5.7" height="52.2"/>
<rect x="1046.4" y="695.6" width="4.6" height="52.2"/>
<rect x="1135.1" y="695.6" width="1.4" height="52.2"/>
<rect x="1600.6" y="695.6" width="8" height="52.2"/>
</g>
<g fill="#cbd3ec">
<rect x="561.6" y="746.7" width="7.1" height="53.3"/>
<rect x="569.2" y="746.7" width="8.7" height="53.3"/>
<rect x="579.7" y="746.7" width="4.6" height="53.3"/>
<rect x="585.4" y="746.7" width="6.5" height="53.3"/>
<rect x="592.4" y="746.7" width="0.8" height="53.3"/>
<rect x="594.3" y="746.7" width="3.3" height="53.3"/>
<rect x="598.1" y="746.7" width="3.9" height="53.3"/>
<rect x="602.5" y="746.7" width="4" height="53.3"/>
<rect x="607" y="746.7" width="4" height="53.3"/>
<rect x="820.6" y="746.7" width="2.2" height="53.3"/>
<rect x="1262.7" y="746.7" width="7.3" height="53.3"/>
<rect x="1272" y="746.7" width="3" height="53.3"/>
<rect x="1276.6" y="746.7" width="6.9" height="53.3"/>
<rect x="1304" y="746.7" width="2" height="53.3"/>
<rect x="1307" y="746.7" width="2" height="53.3"/>
<rect x="1311" y="746.7" width="3.5" height="53.3"/>
<rect x="1325.5" y="746.7" width="3.5" height="53.3"/>
<rect x="1330" y="746.7" width="2" height="53.3"/>
<rect x="1333" y="746.7" width="2.5" height="53.3"/>
<rect x="1342.2" y="746.7" width="29.8" height="53.3"/>
<rect x="1374" y="746.7" width="5" height="53.3"/>
</g>
<path d="M1653 747.5H1661" stroke="#b9bcc0" stroke-width="1.6"/>
<g font-family="Liberation Sans, sans-serif">
<text x="113.2" y="689.4" font-size="19.6" text-anchor="end" textLength="38.5" lengthAdjust="spacingAndGlyphs" fill="#e4e5e6" stroke="#e4e5e6" stroke-width="0.35" >400</text>
<text x="113.2" y="668" font-size="19.6" text-anchor="end" textLength="38.5" lengthAdjust="spacingAndGlyphs" fill="#e4e5e6" stroke="#e4e5e6" stroke-width="0.35" >500</text>
<text x="113.2" y="650.5" font-size="19.6" text-anchor="end" textLength="38.5" lengthAdjust="spacingAndGlyphs" fill="#e4e5e6" stroke="#e4e5e6" stroke-width="0.35" >600</text>
<text x="113.2" y="635.7" font-size="19.6" text-anchor="end" textLength="38.5" lengthAdjust="spacingAndGlyphs" fill="#e4e5e6" stroke="#e4e5e6" stroke-width="0.35" >700</text>
<text x="113.2" y="622.8" font-size="19.6" text-anchor="end" textLength="38.5" lengthAdjust="spacingAndGlyphs" fill="#e4e5e6" stroke="#e4e5e6" stroke-width="0.35" >800</text>
<text x="113.2" y="611.5" font-size="19.6" text-anchor="end" textLength="38.5" lengthAdjust="spacingAndGlyphs" fill="#e4e5e6" stroke="#e4e5e6" stroke-width="0.35" >900</text>
<text x="107.6" y="601.4" font-size="19.6" text-anchor="end" textLength="49" lengthAdjust="spacingAndGlyphs" fill="#e4e5e6" stroke="#e4e5e6" stroke-width="0.35" >1000</text>
<text x="113.2" y="534.8" font-size="19.6" text-anchor="end" textLength="51.4" lengthAdjust="spacingAndGlyphs" fill="#e4e5e6" stroke="#e4e5e6" stroke-width="0.35" >2000</text>
<text x="113.2" y="495.9" font-size="19.6" text-anchor="end" textLength="51.4" lengthAdjust="spacingAndGlyphs" fill="#e4e5e6" stroke="#e4e5e6" stroke-width="0.35" >3000</text>
<text x="113.2" y="468.3" font-size="19.6" text-anchor="end" textLength="51.4" lengthAdjust="spacingAndGlyphs" fill="#e4e5e6" stroke="#e4e5e6" stroke-width="0.35" >4000</text>
<text x="113.2" y="446.8" font-size="19.6" text-anchor="end" textLength="51.4" lengthAdjust="spacingAndGlyphs" fill="#e4e5e6" stroke="#e4e5e6" stroke-width="0.35" >5000</text>
<text x="113.2" y="429.3" font-size="19.6" text-anchor="end" textLength="51.4" lengthAdjust="spacingAndGlyphs" fill="#e4e5e6" stroke="#e4e5e6" stroke-width="0.35" >6000</text>
<text x="113.2" y="414.5" font-size="19.6" text-anchor="end" textLength="51.4" lengthAdjust="spacingAndGlyphs" fill="#e4e5e6" stroke="#e4e5e6" stroke-width="0.35" >7000</text>
<text x="113.2" y="401.7" font-size="19.6" text-anchor="end" textLength="51.4" lengthAdjust="spacingAndGlyphs" fill="#e4e5e6" stroke="#e4e5e6" stroke-width="0.35" >8000</text>
<text x="113.2" y="390.4" font-size="19.6" text-anchor="end" textLength="51.4" lengthAdjust="spacingAndGlyphs" fill="#e4e5e6" stroke="#e4e5e6" stroke-width="0.35" >9000</text>
<text x="107.6" y="380.2" font-size="19.6" text-anchor="end" textLength="61.9" lengthAdjust="spacingAndGlyphs" fill="#e4e5e6" stroke="#e4e5e6" stroke-width="0.35" >10000</text>
<text x="113.2" y="313.7" font-size="19.6" text-anchor="end" textLength="64.2" lengthAdjust="spacingAndGlyphs" fill="#e4e5e6" stroke="#e4e5e6" stroke-width="0.35" >20000</text>
<text x="113.2" y="274.7" font-size="19.6" text-anchor="end" textLength="64.2" lengthAdjust="spacingAndGlyphs" fill="#e4e5e6" stroke="#e4e5e6" stroke-width="0.35" >30000</text>
<text x="113.2" y="247.1" font-size="19.6" text-anchor="end" textLength="64.2" lengthAdjust="spacingAndGlyphs" fill="#e4e5e6" stroke="#e4e5e6" stroke-width="0.35" >40000</text>
<text x="113.2" y="225.7" font-size="19.6" text-anchor="end" textLength="64.2" lengthAdjust="spacingAndGlyphs" fill="#e4e5e6" stroke="#e4e5e6" stroke-width="0.35" >50000</text>
<text x="113.2" y="208.2" font-size="19.6" text-anchor="end" textLength="64.2" lengthAdjust="spacingAndGlyphs" fill="#e4e5e6" stroke="#e4e5e6" stroke-width="0.35" >60000</text>
<text x="113.2" y="193.4" font-size="19.6" text-anchor="end" textLength="64.2" lengthAdjust="spacingAndGlyphs" fill="#e4e5e6" stroke="#e4e5e6" stroke-width="0.35" >70000</text>
<text x="113.2" y="180.5" font-size="19.6" text-anchor="end" textLength="64.2" lengthAdjust="spacingAndGlyphs" fill="#e4e5e6" stroke="#e4e5e6" stroke-width="0.35" >80000</text>
<text x="109.3" y="701.9" font-size="19.6" text-anchor="end" textLength="46" lengthAdjust="spacingAndGlyphs" fill="#e4e5e6" stroke="#e4e5e6" stroke-width="0.35" >1.00</text>
<text x="109.3" y="754.9" font-size="19.6" text-anchor="end" textLength="46" lengthAdjust="spacingAndGlyphs" fill="#e4e5e6" stroke="#e4e5e6" stroke-width="0.35" >0.00</text>
<text x="109.3" y="807.1" font-size="19.6" text-anchor="end" textLength="61" lengthAdjust="spacingAndGlyphs" fill="#e4e5e6" stroke="#e4e5e6" stroke-width="0.35" >−1.00</text>
<text x="192.3" y="826.4" font-size="20.3" text-anchor="middle" textLength="53" lengthAdjust="spacingAndGlyphs" fill="#e4e5e6" stroke="#e4e5e6" stroke-width="0.35" >2017</text>
<text x="389.1" y="826.4" font-size="20.3" text-anchor="middle" textLength="53" lengthAdjust="spacingAndGlyphs" fill="#e4e5e6" stroke="#e4e5e6" stroke-width="0.35" >2018</text>
<text x="585.9" y="826.4" font-size="20.3" text-anchor="middle" textLength="53" lengthAdjust="spacingAndGlyphs" fill="#e4e5e6" stroke="#e4e5e6" stroke-width="0.35" >2019</text>
<text x="782.7" y="826.4" font-size="20.3" text-anchor="middle" textLength="53" lengthAdjust="spacingAndGlyphs" fill="#e4e5e6" stroke="#e4e5e6" stroke-width="0.35" >2020</text>
<text x="979.5" y="826.4" font-size="20.3" text-anchor="middle" textLength="53" lengthAdjust="spacingAndGlyphs" fill="#e4e5e6" stroke="#e4e5e6" stroke-width="0.35" >2021</text>
<text x="1176.3" y="826.4" font-size="20.3" text-anchor="middle" textLength="53" lengthAdjust="spacingAndGlyphs" fill="#e4e5e6" stroke="#e4e5e6" stroke-width="0.35" >2022</text>
<text x="1373.1" y="826.4" font-size="20.3" text-anchor="middle" textLength="53" lengthAdjust="spacingAndGlyphs" fill="#e4e5e6" stroke="#e4e5e6" stroke-width="0.35" >2023</text>
<text x="1569.9" y="826.4" font-size="20.3" text-anchor="middle" textLength="53" lengthAdjust="spacingAndGlyphs" fill="#e4e5e6" stroke="#e4e5e6" stroke-width="0.35" >2024</text>
<text x="900.9" y="140.8" font-size="26" text-anchor="middle" textLength="386.5" lengthAdjust="spacingAndGlyphs" fill="#e9e9ea">ProfChaine Momentum Oscillator</text>
<text transform="translate(21.6 452.2) rotate(-90)" font-size="21" textLength="48.5" lengthAdjust="spacingAndGlyphs" fill="#e4e5e6">Price</text>
<text transform="translate(28.7 907.5) rotate(-90)" font-size="20.5" textLength="334" lengthAdjust="spacingAndGlyphs" fill="#e4e5e6">rofChaine_Momentum_Oscillator</text>
<path d="M669 873H712.6" stroke="#8496a6" stroke-width="3"/>
<text x="719.5" y="879.9" font-size="18" text-anchor="start" textLength="43" lengthAdjust="spacingAndGlyphs" fill="#d9dadb" stroke="#d9dadb" stroke-width="0.35" >price</text>
<rect x="788.6" y="864" width="18" height="17.6" rx="1.5" fill="#3c3c3c" stroke="#5a6068" stroke-width="1.4"/>
<clipPath id="lc"><rect x="820" y="855" width="295.2" height="40"/></clipPath>
<g clip-path="url(#lc)">
<text x="826.6" y="879.9" font-size="18" text-anchor="start" textLength="297" lengthAdjust="spacingAndGlyphs" fill="#d9dadb" stroke="#d9dadb" stroke-width="0.35" >ProfChaine_Momentum_Oscillator</text>
</g>
<rect x="1705.8" y="186.3" width="44.8" height="598" fill="none" stroke="#3f3f40" stroke-width="1.6"/>
<text x="1757" y="193" font-size="18" text-anchor="start" textLength="11.5" lengthAdjust="spacingAndGlyphs" fill="#2b3f5e" stroke="#2b3f5e" stroke-width="0.35" >4</text>
<text x="1757" y="311" font-size="18" text-anchor="start" textLength="11.5" lengthAdjust="spacingAndGlyphs" fill="#2b3f5e" stroke="#2b3f5e" stroke-width="0.35" >3</text>
<text x="1757" y="433" font-size="18" text-anchor="start" textLength="11.5" lengthAdjust="spacingAndGlyphs" fill="#2b3f5e" stroke="#2b3f5e" stroke-width="0.35" >2</text>
<text x="1757" y="553" font-size="18" text-anchor="start" textLength="11.5" lengthAdjust="spacingAndGlyphs" fill="#2b3f5e" stroke="#2b3f5e" stroke-width="0.35" >1</text>
<text x="1757" y="671" font-size="18" text-anchor="start" textLength="11.5" lengthAdjust="spacingAndGlyphs" fill="#2b3f5e" stroke="#2b3f5e" stroke-width="0.35" >0</text>
<text x="1757" y="791" font-size="18" text-anchor="start" textLength="26" lengthAdjust="spacingAndGlyphs" fill="#2b3f5e" stroke="#2b3f5e" stroke-width="0.35" >−1</text>
<g fill="#ffffff" fill-opacity="0.2">
<text x="547.5" y="538.9" font-size="90" textLength="164.3" lengthAdjust="spacingAndGlyphs">The</text>
<text x="743.3" y="538.9" font-size="90" textLength="298.2" lengthAdjust="spacingAndGlyphs">Bitcoin</text>
<text x="1071.7" y="538.9" font-size="90" textLength="153.9" lengthAdjust="spacingAndGlyphs">Lab</text>
<text x="513.9" y="634.1" font-size="58" textLength="164.5" lengthAdjust="spacingAndGlyphs">www.</text>
<text x="680.8" y="634.1" font-size="58" textLength="460.6" lengthAdjust="spacingAndGlyphs">researchbitcoin</text>
<text x="1146.9" y="634.1" font-size="58" textLength="118.1" lengthAdjust="spacingAndGlyphs">.net</text>
</g>
</g>
</g>
<rect x="85.8" y="662.8" width="1612.4" height="176.4" fill="#ffffff" fill-opacity="0.35"/>
<rect x="236" y="283" width="176.9" height="484.8" fill="rgba(250,104,100,0.35)"/>
<rect x="937" y="182.2" width="127.9" height="575.1" fill="rgba(250,104,100,0.35)"/>
<rect x="1591.1" y="142.4" width="24.4" height="614.9" fill="rgba(250,104,100,0.35)"/>
<rect x="550.3" y="430.3" width="69.8" height="378.6" fill="rgba(86,178,252,0.33)"/>
<rect x="1250.1" y="284.3" width="141.9" height="525.1" fill="rgba(86,178,252,0.33)"/>
<g font-family="Liberation Sans, sans-serif" font-weight="bold" font-size="27.6" lengthAdjust="spacingAndGlyphs">
<text x="201" y="55" textLength="240" lengthAdjust="spacingAndGlyphs" fill="#f46a63">Bitcoin Momentum</text>
<text x="240.7" y="93.3" textLength="164.5" lengthAdjust="spacingAndGlyphs" fill="#f46a63">Oscillator = 1</text>
<text x="1193.5" y="55" textLength="241.5" lengthAdjust="spacingAndGlyphs" fill="#5eb2f0">Bitcoin Momentum</text>
<text x="1227.3" y="93.3" textLength="175.4" lengthAdjust="spacingAndGlyphs" fill="#5eb2f0">Oscillator = -1</text>
<text x="766.1" y="969.6" textLength="369.3" lengthAdjust="spacingAndGlyphs" fill="#ffffff">Bitcoin Momentum Oscillator</text>
</g>
<g fill="none" stroke-linecap="round" stroke-linejoin="round">
<path d="M324.5 102.3L324.6 281.5 M319.7 275.9L324.6 282.3L329.5 275.9" stroke="#d56264" stroke-width="3"/>
<path d="M1317.2 102.3L1321 282 M1316 276.4L1321 282.9L1325.8 276" stroke="#549ddb" stroke-width="2.9"/>
<path d="M950.3 943.5V770 M945.2 776.2L950.3 769.4L955.4 776.2" stroke="#d6d8db" stroke-width="2.6"/>
</g>
</svg>
</body></html>
